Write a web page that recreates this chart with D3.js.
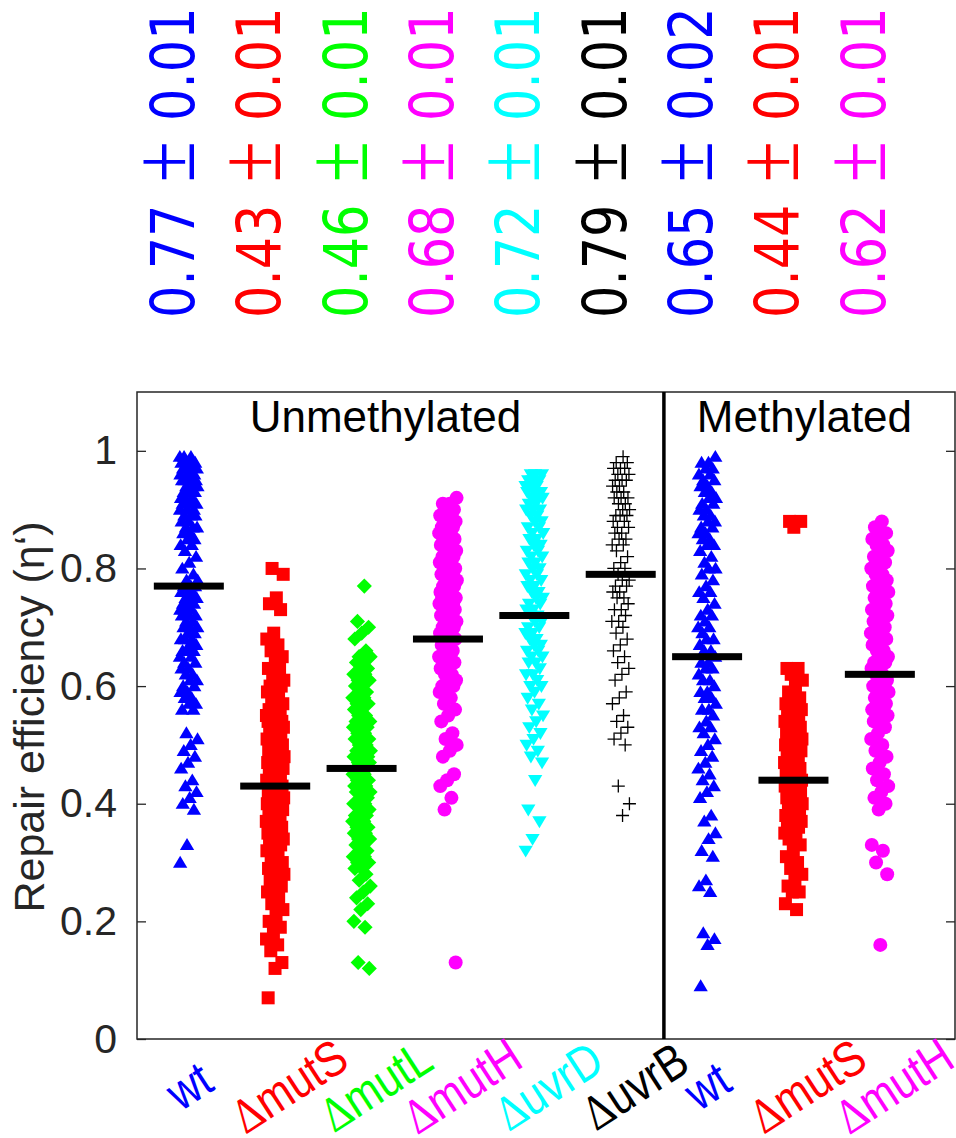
<!DOCTYPE html>
<html>
<head>
<meta charset="utf-8">
<script src="https://cdn.jsdelivr.net/npm/d3@7"></script>
<style>
  html, body { margin: 0; padding: 0; background: #fff; }
  svg { display: block; }
</style>
</head>
<body>
<svg id="chart" width="956" height="1138"></svg>
<script>
// Strain groups, in plotting order (first six unmethylated, last three methylated)
const strains   = ["wt", "ΔmutS", "ΔmutL", "ΔmutH", "ΔuvrD", "ΔuvrB", "wt", "ΔmutS", "ΔmutH"];
const colors    = ["#0000ff", "#ff0000", "#00ff00", "#ff00ff", "#00ffff", "#000000", "#0000ff", "#ff0000", "#ff00ff"];
const markers   = ["triangle", "square", "diamond", "circle", "triangleDown", "plus", "triangle", "square", "circle"];
const means     = [0.77, 0.43, 0.46, 0.68, 0.72, 0.79, 0.65, 0.44, 0.62];
const errors    = [0.01, 0.01, 0.01, 0.01, 0.01, 0.01, 0.02, 0.01, 0.01];
const panels    = ["Unmethylated", "Methylated"];
const yTicks    = [0, 0.2, 0.4, 0.6, 0.8, 1];

// Per-cell repair efficiencies
const wtUnmeth = [0.99,0.99,0.99,0.98,0.98,0.98,0.98,0.97,0.97,0.97,0.97,0.96,0.96,0.96,0.96,0.95,0.95,0.95,0.95,0.94,0.94,0.94,0.93,0.93,0.93,0.93,0.92,0.92,0.92,0.91,0.91,0.91,0.90,0.90,0.90,0.89,0.89,0.89,0.88,0.88,0.87,0.87,0.87,0.86,0.86,0.85,0.85,0.84,0.84,0.83,0.82,0.81,0.80,0.79,0.78,0.78,0.77,0.77,0.77,0.76,0.76,0.76,0.75,0.75,0.75,0.74,0.74,0.74,0.73,0.73,0.73,0.72,0.72,0.72,0.71,0.71,0.70,0.70,0.70,0.69,0.69,0.68,0.68,0.68,0.67,0.67,0.66,0.66,0.66,0.65,0.65,0.64,0.64,0.63,0.63,0.62,0.62,0.61,0.61,0.60,0.60,0.59,0.59,0.58,0.58,0.57,0.57,0.56,0.56,0.52,0.51,0.50,0.49,0.48,0.47,0.46,0.44,0.43,0.42,0.41,0.40,0.39,0.33,0.30];
const mutSUnmeth = [0.80,0.79,0.75,0.74,0.73,0.69,0.68,0.67,0.66,0.65,0.64,0.63,0.63,0.62,0.61,0.61,0.60,0.60,0.59,0.59,0.58,0.58,0.57,0.57,0.56,0.56,0.56,0.55,0.55,0.55,0.54,0.54,0.54,0.53,0.53,0.53,0.52,0.52,0.52,0.51,0.51,0.51,0.50,0.50,0.50,0.49,0.49,0.49,0.48,0.48,0.48,0.47,0.47,0.47,0.46,0.46,0.46,0.45,0.45,0.45,0.44,0.44,0.44,0.43,0.43,0.43,0.42,0.42,0.42,0.41,0.41,0.41,0.40,0.40,0.40,0.39,0.39,0.39,0.38,0.38,0.38,0.37,0.37,0.37,0.36,0.36,0.36,0.35,0.35,0.35,0.34,0.34,0.33,0.33,0.32,0.32,0.31,0.31,0.30,0.30,0.29,0.29,0.28,0.28,0.27,0.27,0.26,0.26,0.25,0.24,0.23,0.22,0.21,0.20,0.19,0.18,0.17,0.16,0.15,0.13,0.12,0.07];
const mutLUnmeth = [0.77,0.71,0.70,0.69,0.68,0.66,0.65,0.65,0.64,0.64,0.63,0.63,0.62,0.62,0.61,0.61,0.60,0.60,0.59,0.59,0.58,0.58,0.57,0.57,0.56,0.56,0.55,0.55,0.54,0.54,0.54,0.53,0.53,0.53,0.52,0.52,0.51,0.51,0.51,0.50,0.50,0.49,0.49,0.49,0.48,0.48,0.48,0.47,0.47,0.47,0.46,0.46,0.46,0.45,0.45,0.45,0.44,0.44,0.44,0.43,0.43,0.43,0.42,0.42,0.42,0.41,0.41,0.40,0.40,0.40,0.39,0.39,0.38,0.38,0.38,0.37,0.37,0.36,0.36,0.36,0.35,0.35,0.34,0.34,0.33,0.33,0.32,0.32,0.31,0.31,0.30,0.30,0.29,0.29,0.28,0.27,0.26,0.25,0.24,0.23,0.22,0.20,0.19,0.13,0.12];
const mutHUnmeth = [0.92,0.91,0.91,0.90,0.90,0.89,0.89,0.88,0.88,0.88,0.87,0.87,0.86,0.86,0.86,0.85,0.85,0.84,0.84,0.84,0.83,0.83,0.82,0.82,0.82,0.81,0.81,0.80,0.80,0.80,0.79,0.79,0.79,0.78,0.78,0.78,0.77,0.77,0.77,0.76,0.76,0.76,0.75,0.75,0.75,0.74,0.74,0.74,0.73,0.73,0.73,0.72,0.72,0.72,0.71,0.71,0.71,0.70,0.70,0.70,0.69,0.69,0.68,0.68,0.67,0.67,0.66,0.66,0.65,0.65,0.64,0.64,0.63,0.63,0.62,0.62,0.61,0.61,0.60,0.60,0.59,0.59,0.58,0.57,0.56,0.55,0.54,0.52,0.51,0.50,0.49,0.48,0.45,0.44,0.43,0.41,0.39,0.13];
const uvrDUnmeth = [0.96,0.96,0.96,0.95,0.95,0.95,0.94,0.94,0.94,0.93,0.93,0.93,0.92,0.92,0.92,0.91,0.91,0.90,0.90,0.90,0.89,0.89,0.88,0.88,0.87,0.87,0.86,0.86,0.85,0.85,0.84,0.84,0.83,0.83,0.82,0.82,0.81,0.81,0.80,0.80,0.79,0.79,0.78,0.78,0.77,0.77,0.76,0.76,0.75,0.75,0.74,0.74,0.73,0.73,0.72,0.72,0.71,0.71,0.70,0.70,0.69,0.69,0.68,0.68,0.67,0.67,0.66,0.66,0.65,0.65,0.64,0.64,0.63,0.62,0.62,0.61,0.60,0.60,0.59,0.58,0.57,0.56,0.55,0.54,0.53,0.52,0.51,0.50,0.49,0.48,0.47,0.44,0.39,0.37,0.34,0.32];
const uvrBUnmeth = [0.99,0.98,0.98,0.97,0.97,0.97,0.96,0.96,0.95,0.95,0.95,0.94,0.94,0.93,0.93,0.92,0.92,0.92,0.91,0.91,0.90,0.90,0.89,0.89,0.89,0.88,0.88,0.87,0.87,0.86,0.86,0.85,0.85,0.84,0.84,0.83,0.82,0.81,0.80,0.80,0.79,0.78,0.78,0.77,0.77,0.76,0.76,0.75,0.75,0.74,0.73,0.73,0.72,0.71,0.71,0.70,0.69,0.68,0.67,0.66,0.65,0.64,0.63,0.62,0.61,0.59,0.58,0.57,0.55,0.54,0.53,0.52,0.51,0.50,0.43,0.40,0.38];
const wtMeth = [0.99,0.98,0.98,0.97,0.97,0.96,0.96,0.95,0.95,0.94,0.94,0.93,0.93,0.92,0.92,0.91,0.91,0.90,0.90,0.89,0.89,0.88,0.88,0.87,0.87,0.86,0.86,0.85,0.85,0.84,0.84,0.83,0.82,0.81,0.80,0.80,0.79,0.78,0.77,0.76,0.76,0.75,0.74,0.73,0.72,0.72,0.71,0.70,0.70,0.69,0.68,0.68,0.67,0.66,0.66,0.65,0.64,0.64,0.63,0.63,0.62,0.61,0.61,0.60,0.59,0.59,0.58,0.58,0.57,0.56,0.56,0.55,0.54,0.53,0.53,0.52,0.51,0.50,0.49,0.48,0.47,0.46,0.45,0.44,0.43,0.42,0.41,0.38,0.37,0.35,0.34,0.32,0.31,0.27,0.26,0.25,0.18,0.17,0.16,0.09];
const mutSMeth = [0.88,0.88,0.87,0.63,0.63,0.62,0.61,0.60,0.59,0.58,0.58,0.57,0.57,0.56,0.56,0.55,0.55,0.55,0.54,0.54,0.54,0.53,0.53,0.53,0.52,0.52,0.52,0.51,0.51,0.51,0.50,0.50,0.50,0.49,0.49,0.49,0.48,0.48,0.48,0.47,0.47,0.47,0.46,0.46,0.46,0.45,0.45,0.45,0.44,0.44,0.44,0.43,0.43,0.43,0.42,0.42,0.42,0.41,0.41,0.41,0.40,0.40,0.40,0.39,0.39,0.39,0.38,0.38,0.38,0.37,0.37,0.36,0.36,0.35,0.35,0.34,0.34,0.33,0.32,0.31,0.30,0.29,0.28,0.27,0.26,0.25,0.25,0.23,0.22];
const mutHMeth = [0.88,0.87,0.86,0.86,0.85,0.84,0.84,0.83,0.82,0.82,0.81,0.80,0.80,0.79,0.79,0.78,0.78,0.77,0.77,0.76,0.76,0.75,0.75,0.74,0.74,0.73,0.73,0.72,0.72,0.71,0.71,0.70,0.70,0.69,0.69,0.68,0.68,0.67,0.67,0.66,0.66,0.65,0.65,0.64,0.64,0.63,0.63,0.62,0.62,0.61,0.61,0.60,0.60,0.59,0.59,0.58,0.58,0.57,0.57,0.56,0.56,0.55,0.55,0.54,0.54,0.53,0.52,0.51,0.50,0.49,0.48,0.47,0.46,0.45,0.44,0.43,0.42,0.41,0.40,0.39,0.33,0.32,0.30,0.28,0.16];

const groups = [wtUnmeth, mutSUnmeth, mutLUnmeth, mutHUnmeth, uvrDUnmeth, uvrBUnmeth, wtMeth, mutSMeth, mutHMeth];

const svg = d3.select("#chart");
const W = 956, H = 1138;
svg.append("rect").attr("width", W).attr("height", H).attr("fill", "#fff");

const box = { left: 137, right: 955, top: 392, bottom: 1039 };
const x = d3.scaleLinear().domain([0.4, 9.87]).range([box.left, box.right]);
const y = d3.scaleLinear().domain([0, 1.1]).range([box.bottom, box.top]);
const axisColor = "#262626";
const sans = "'Liberation Sans', Arial, Helvetica, sans-serif";
const symbolFont = "'Liberation Serif', serif";

// Marker shapes (path generators centred at 0,0)
const shapes = {
  triangle:     r => `M0,${-r}L${r * 1.05},${r * 0.75}L${-r * 1.05},${r * 0.75}Z`,
  triangleDown: r => `M0,${r}L${r * 1.05},${-r * 0.75}L${-r * 1.05},${-r * 0.75}Z`,
  square:       r => `M${-r},${-r}H${r}V${r}H${-r}Z`,
  diamond:      r => `M0,${-r * 1.2}L${r * 1.2},0L0,${r * 1.2}L${-r * 1.2},0Z`,
  circle:       r => `M${r},0A${r},${r} 0 1,1 ${-r},0A${r},${r} 0 1,1 ${r},0Z`,
  plus:         r => `M${-r},0H${r}M0,${-r}V${r}`
};
const radius = { triangle: 6.8, triangleDown: 6.8, square: 6.5, diamond: 6.3, circle: 7, plus: 6.5 };

// Deterministic horizontal spread of points within a column
const spread = 9;
const jitter = i => (((i * 0.6180339887) % 1) - 0.5) * 2 * spread;

// Points
const pointsLayer = svg.append("g");
groups.forEach((vals, gi) => {
  const m = markers[gi];
  const g = pointsLayer.append("g");
  g.selectAll("path")
    .data(vals)
    .join("path")
    .attr("transform", (v, i) => `translate(${x(gi + 1) + jitter(i + gi * 7)},${y(v)})`)
    .attr("d", shapes[m](radius[m]))
    .attr("fill", m === "plus" ? "none" : colors[gi])
    .attr("stroke", colors[gi])
    .attr("stroke-width", m === "plus" ? 1.3 : 0);
});

// Mean bars
svg.append("g").selectAll("rect")
  .data(means)
  .join("rect")
  .attr("x", (d, i) => x(i + 1) - 35)
  .attr("y", d => y(d) - 3.5)
  .attr("width", 70)
  .attr("height", 7)
  .attr("fill", "#000");

// Axes: ticks pointing inward on both sides
const left = svg.append("g")
  .attr("transform", `translate(${box.left},0)`)
  .call(d3.axisLeft(y).tickValues(yTicks).tickSizeInner(-9).tickSizeOuter(0).tickPadding(20).tickFormat(d => String(d)));
const right = svg.append("g")
  .attr("transform", `translate(${box.right},0)`)
  .call(d3.axisRight(y).tickValues(yTicks).tickSizeInner(-9).tickSizeOuter(0).tickFormat(""));
[left, right].forEach(a => {
  a.select(".domain").remove();
  a.selectAll(".tick line").attr("stroke", axisColor).attr("stroke-width", 1.3);
});
left.selectAll(".tick text")
  .attr("fill", axisColor)
  .style("font-family", sans)
  .style("font-size", "41px");

// Frame and the panel divider
svg.append("rect")
  .attr("x", box.left).attr("y", box.top)
  .attr("width", box.right - box.left).attr("height", box.bottom - box.top)
  .attr("fill", "none").attr("stroke", axisColor).attr("stroke-width", 1.5);
svg.append("line")
  .attr("x1", x(6.5)).attr("x2", x(6.5))
  .attr("y1", box.top).attr("y2", box.bottom)
  .attr("stroke", "#000").attr("stroke-width", 3.5);

// Panel titles
svg.append("g").selectAll("text")
  .data(panels)
  .join("text")
  .attr("x", (d, i) => i === 0 ? (x(0.4) + x(6.5)) / 2 - 15 : (x(6.5) + x(9.87)) / 2 - 5)
  .attr("y", 432)
  .attr("text-anchor", "middle")
  .attr("fill", "#000")
  .style("font-family", sans)
  .style("font-size", "44px")
  .text(d => d);

// Y axis title
svg.append("text")
  .attr("transform", `translate(44,${(912 + 522) / 2}) rotate(-90)`)
  .attr("text-anchor", "middle")
  .attr("fill", axisColor)
  .style("font-family", sans)
  .style("font-size", "43px")
  .text("Repair efficiency (η‘)");

// Mean ± error labels above each column (read bottom to top)
const stat = svg.append("g").selectAll("text")
  .data(means)
  .join("text")
  .attr("transform", (d, i) => `translate(${x(i + 1) + 5},318) rotate(-90) scale(0.85,1)`)
  .attr("fill", (d, i) => colors[i])
  .style("font-family", "'DejaVu Sans', sans-serif")
  .style("font-size", "60px");
stat.append("tspan").text(d => d.toFixed(2));
stat.append("tspan").attr("dx", 26).style("font-family", symbolFont).style("font-size", "88px").text("±");
stat.append("tspan").attr("dx", 24).text((d, i) => errors[i].toFixed(2));

// Strain labels under each column, slanted
const lab = svg.append("g").selectAll("text")
  .data(strains)
  .join("text")
  .attr("transform", (d, i) => `translate(${x(i + 1) + (d.startsWith("Δ") ? 14 : 0)},1086) rotate(-33) scale(0.85,1)`)
  .attr("text-anchor", "middle")
  .attr("dominant-baseline", "central")
  .attr("fill", (d, i) => colors[i])
  .style("font-family", sans)
  .style("font-size", "50px");
lab.filter(d => d.startsWith("Δ")).append("tspan")
  .style("font-family", symbolFont)
  .text("Δ");
lab.append("tspan").text(d => d.replace("Δ", ""));
</script>
</body>
</html>
